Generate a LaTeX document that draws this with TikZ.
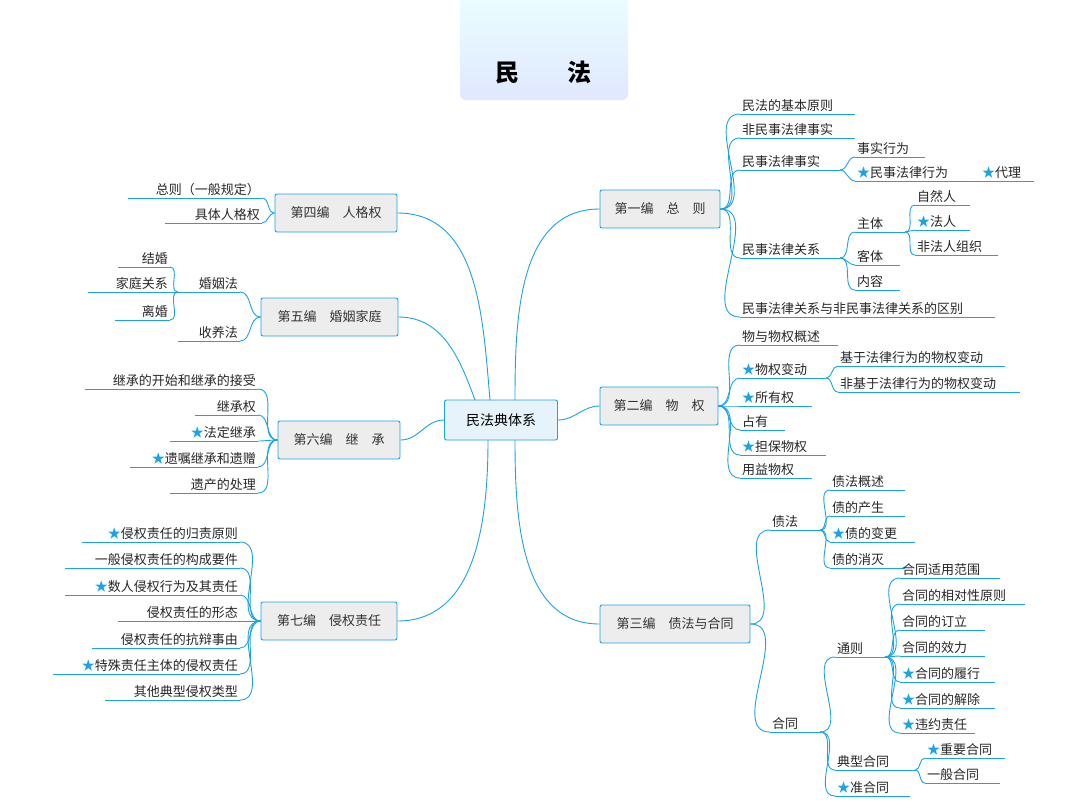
\documentclass[tikz,border=0pt]{standalone}
\usepackage{fontspec}
\setmainfont{Noto Sans CJK SC}
\newfontfamily\cjkb{Noto Sans CJK SC}
\definecolor{myblue}{HTML}{1AA3E6}
\definecolor{boxfill}{HTML}{EDEDED}
\definecolor{cfill}{HTML}{E6F3FA}
\tikzset{ln/.style={draw=myblue,line width=0.9pt},
 lt/.style={inner sep=2pt,font=\fontsize{13}{14}\selectfont,text=black!85},
 bx/.style={draw=myblue,line width=0.9pt,fill=boxfill,rounded corners=2pt,minimum height=38pt,font=\fontsize{13}{14}\selectfont,text=black!80,inner xsep=6pt}}
\newcommand\st{\textcolor{myblue}{★}}
% right leaf: name parent x1 x2 y text
\newcommand\RL[6]{\coordinate (#1) at (#3,#5); \coordinate (#1e) at (#4,#5);
 \draw[ln] (#1) -- (#1e); \node[lt,anchor=south west] (#1t) at (#3,#5) {#6};
 \draw[ln] (#2) to[out=0,in=180] (#1);}
\newcommand\LL[6]{\coordinate (#1) at (#4,#5); \coordinate (#1e) at (#3,#5);
 \draw[ln] (#1) -- (#1e); \node[lt,anchor=south east] (#1t) at (#4,#5) {#6};
 \draw[ln] (#2) to[out=180,in=0] (#1);}
\begin{document}
\begin{tikzpicture}[x=1pt,y=-1pt]
\useasboundingbox (0,0) rectangle (1074,807);
\shade[top color=cyan!8,bottom color=cyan!22!blue!12,rounded corners=6pt] (460,-10) rectangle (628,100);
\node[font=\fontsize{24}{26}\selectfont\bfseries] (title) at (543,72) {民\hspace{2em}法};
\node[draw=myblue,line width=0.9pt,fill=cfill,rounded corners=2pt,minimum width=113pt,minimum height=40pt,font=\fontsize{14}{16}\selectfont] (c) at (501,420) {民法典体系};
% boxes
\node[bx,minimum width=120pt] (b1) at (660,209) {第一编\hspace{1em}总\hspace{1em}则};
\node[bx,minimum width=118pt] (b2) at (659,406) {第二编\hspace{1em}物\hspace{1em}权};
\node[bx,minimum width=150pt] (b3) at (675,624) {第三编\hspace{1em}债法与合同};
\node[bx,minimum width=122pt] (b4) at (336,213) {第四编\hspace{1em}人格权};
\node[bx,minimum width=137pt] (b5) at (329.5,317) {第五编\hspace{1em}婚姻家庭};
\node[bx,minimum width=122pt] (b6) at (339,440) {第六编\hspace{1em}继\hspace{1em}承};
\node[bx,minimum width=136pt] (b7) at (329,621) {第七编\hspace{1em}侵权责任};
\draw[ln] (515,400) to[out=90,in=180] (b1.west);
\draw[ln] (c.east) to[out=0,in=180] (b2.west);
\draw[ln] (515,440) to[out=-90,in=180] (b3.west);
\draw[ln] (490,400) to[out=95,in=0] (b4.east);
\draw[ln] (475,400) to[out=110,in=0] (b5.east);
\draw[ln] (c.west) to[out=180,in=0] (b6.east);
\draw[ln] (488,440) to[out=-90,in=0] (b7.east);
% part 1
\RL{a1}{b1.east}{740}{855}{114}{民法的基本原则}
\RL{a2}{b1.east}{740}{855}{138}{非民事法律事实}
\RL{a3}{b1.east}{740}{840}{170}{民事法律事实}
\RL{a31}{a3e}{855}{925}{157}{事实行为}
\RL{a32}{a3e}{855}{975}{181}{\st 民事法律行为}
\RL{a321}{a32e}{980}{1034}{181}{\st 代理}
\RL{a4}{b1.east}{740}{840}{258}{民事法律关系}
\RL{a41}{a4e}{855}{905}{232}{主体}
\RL{a411}{a41e}{915}{970}{205}{自然人}
\RL{a412}{a41e}{915}{970}{230}{\st 法人}
\RL{a413}{a41e}{915}{998}{255}{非法人组织}
\RL{a42}{a4e}{855}{900}{265}{客体}
\RL{a43}{a4e}{855}{900}{290}{内容}
\RL{a5}{b1.east}{740}{995}{317}{民事法律关系与非民事法律关系的区别}
% part 2
\RL{w1}{b2.east}{740}{838}{345}{物与物权概述}
\RL{w2}{b2.east}{740}{826}{378}{\st 物权变动}
\RL{w21}{w2e}{838}{1005}{366}{基于法律行为的物权变动}
\RL{w22}{w2e}{838}{1020}{392}{非基于法律行为的物权变动}
\RL{w3}{b2.east}{740}{812}{406}{\st 所有权}
\RL{w4}{b2.east}{740}{785}{430}{占有}
\RL{w5}{b2.east}{740}{826}{455}{\st 担保物权}
\RL{w6}{b2.east}{740}{812}{478}{用益物权}
% part 3
\RL{z1}{b3.east}{770}{820}{530}{债法}
\RL{z11}{z1e}{830}{905}{490}{债法概述}
\RL{z12}{z1e}{830}{905}{516}{债的产生}
\RL{z13}{z1e}{830}{915}{542}{\st 债的变更}
\RL{z14}{z1e}{830}{905}{568}{债的消灭}
\RL{z2}{b3.east}{770}{820}{732}{合同}
\RL{z21}{z2e}{835}{885}{657}{通则}
\RL{t1}{z21e}{900}{1000}{578}{合同适用范围}
\RL{t2}{z21e}{900}{1025}{604}{合同的相对性原则}
\RL{t3}{z21e}{900}{985}{630}{合同的订立}
\RL{t4}{z21e}{900}{985}{656}{合同的效力}
\RL{t5}{z21e}{900}{995}{682}{\st 合同的履行}
\RL{t6}{z21e}{900}{995}{708}{\st 合同的解除}
\RL{t7}{z21e}{900}{975}{733}{\st 违约责任}
\RL{z22}{z2e}{835}{915}{770}{典型合同}
\RL{z221}{z22e}{925}{1005}{758}{\st 重要合同}
\RL{z222}{z22e}{925}{1000}{783}{一般合同}
\RL{z23}{z2e}{835}{910}{796}{\st 准合同}
% part 4
\LL{r1}{b4.west}{128}{262}{198}{总则（一般规定）}
\LL{r2}{b4.west}{165}{262}{223}{具体人格权}
% part 5
\LL{h1}{b5.west}{178}{240}{292}{婚姻法}
\LL{h11}{h1e}{118}{170}{267}{结婚}
\LL{h12}{h1e}{88}{170}{292}{家庭关系}
\LL{h13}{h1e}{115}{170}{320}{离婚}
\LL{h2}{b5.west}{178}{240}{341}{收养法}
% part 6
\LL{j1}{b6.west}{85}{258}{389}{继承的开始和继承的接受}
\LL{j2}{b6.west}{195}{258}{415}{继承权}
\LL{j3}{b6.west}{170}{258}{441}{\st 法定继承}
\LL{j4}{b6.west}{130}{258}{467}{\st 遗嘱继承和遗赠}
\LL{j5}{b6.west}{170}{258}{493}{遗产的处理}
% part 7
\LL{q1}{b7.west}{82}{240}{542}{\st 侵权责任的归责原则}
\LL{q2}{b7.west}{65}{240}{568}{一般侵权责任的构成要件}
\LL{q3}{b7.west}{65}{240}{595}{\st 数人侵权行为及其责任}
\LL{q4}{b7.west}{118}{240}{621}{侵权责任的形态}
\LL{q5}{b7.west}{92}{240}{648}{侵权责任的抗辩事由}
\LL{q6}{b7.west}{53}{240}{674}{\st 特殊责任主体的侵权责任}
\LL{q7}{b7.west}{105}{240}{700}{其他典型侵权类型}
\end{tikzpicture}
\end{document}
